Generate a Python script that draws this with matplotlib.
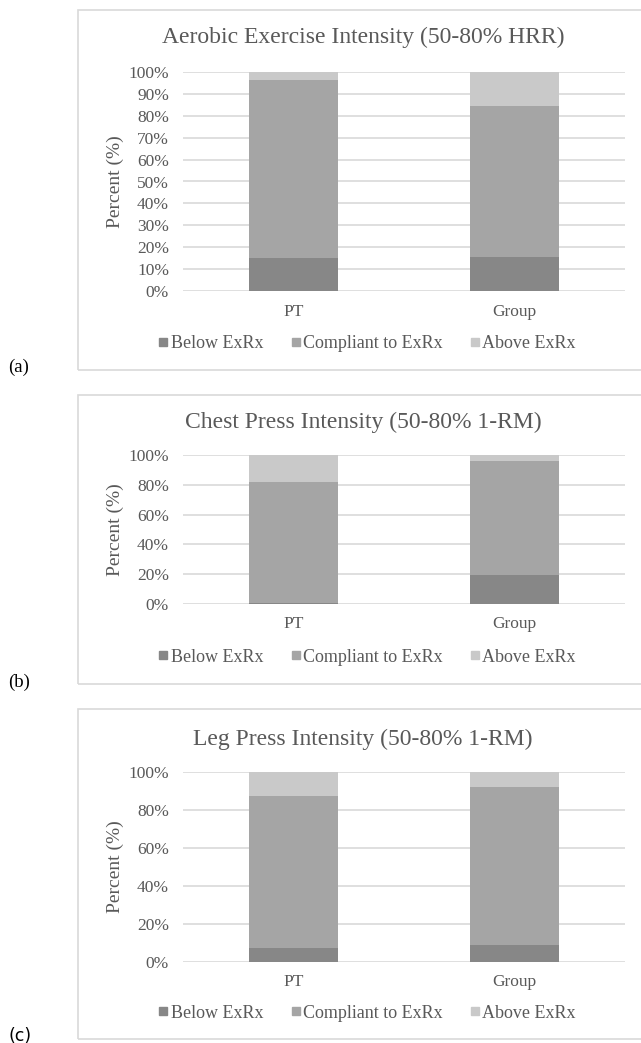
import matplotlib.pyplot as plt
from matplotlib.patches import Rectangle
from matplotlib.lines import Line2D
from matplotlib.ticker import PercentFormatter

groups = ['PT', 'Group']
series = ['Below ExRx', 'Compliant to ExRx', 'Above ExRx']
colors = ['#878787', '#a5a5a5', '#c9c9c9']

titles = ['Aerobic Exercise Intensity (50-80% HRR)',
          'Chest Press Intensity (50-80% 1-RM)',
          'Leg Press Intensity (50-80% 1-RM)']
tags = ['(a)', '(b)', '(c)']

# percent per group: below, compliant, above
aerobic_below = [15.1, 15.7]
aerobic_comp = [81.1, 68.6]
aerobic_above = [3.8, 15.7]

chest_below = [0.7, 19.7]
chest_comp = [81.2, 76.5]
chest_above = [18.1, 3.8]

leg_below = [7.3, 9.1]
leg_comp = [79.9, 83.0]
leg_above = [12.8, 7.9]

panels = [(aerobic_below, aerobic_comp, aerobic_above),
          (chest_below, chest_comp, chest_above),
          (leg_below, leg_comp, leg_above)]
ystep = [10, 20, 20]

W, H = 641, 1043
# pixel layout: box top/bottom, plot top/bottom, title y, legend y, tag y
boxes = [(10, 370), (395, 684), (709, 1039)]
plots = [(72, 291), (455, 604), (772, 962)]
title_y = [37, 422, 739]
leg_y = [344, 657, 1013]
tag_y = [367, 682, 1036]

txt = '#595959'
plt.rcParams['font.family'] = ['Liberation Serif', 'DejaVu Serif']

fig = plt.figure(figsize=(W / 100, H / 100), dpi=100)

for i in range(3):
    bt, bb = boxes[i]
    fig.patches.append(Rectangle((78 / W, 1 - bb / H), (W + 20 - 78) / W, (bb - bt) / H,
                                 transform=fig.transFigure, fill=False,
                                 edgecolor='#d9d9d9', linewidth=1.2))
    pt, pb = plots[i]
    ax = fig.add_axes([183 / W, 1 - pb / H, (625 - 183) / W, (pb - pt) / H])
    below, comp, above = panels[i]
    x = range(len(groups))
    ax.bar(x, below, width=0.4, color=colors[0], label=series[0], zorder=3)
    ax.bar(x, comp, width=0.4, bottom=below, color=colors[1], label=series[1], zorder=3)
    bot2 = [a + b for a, b in zip(below, comp)]
    ax.bar(x, above, width=0.4, bottom=bot2, color=colors[2], label=series[2], zorder=3)
    ax.set_xlim(-0.5, 1.5)
    ax.set_ylim(0, 100)
    ax.set_yticks(range(0, 101, ystep[i]))
    ax.yaxis.set_major_formatter(PercentFormatter(decimals=0))
    ax.set_xticks(list(x))
    ax.set_xticklabels(groups)
    ax.grid(axis='y', color='#d9d9d9', linewidth=1.2, zorder=0)
    for s in ['top', 'right', 'left', 'bottom']:
        ax.spines[s].set_visible(False)
    ax.tick_params(length=0, labelsize=12.5, labelcolor=txt)
    ax.tick_params(axis='y', pad=10)
    ax.tick_params(axis='x', pad=9)
    ax.set_ylabel('Percent (%)', fontsize=14, color=txt, labelpad=3)
    fig.text(363 / W, 1 - title_y[i] / H, titles[i], ha='center', va='center',
             fontsize=17, color=txt)
    handles = [Line2D([], [], marker='s', linestyle='none', markersize=5.5,
                      markerfacecolor=c, markeredgecolor=c) for c in colors]
    fig.legend(handles, series, loc='center', bbox_to_anchor=(365 / W, 1 - leg_y[i] / H),
               ncol=3, frameon=False, fontsize=13, labelcolor=txt,
               handletextpad=-0.1, columnspacing=1.3, handlelength=1.0)
    if i < 2:
        fig.text(8 / W, 1 - tag_y[i] / H, tags[i], ha='left', va='center',
                 fontsize=13.5, color='black')
    else:
        fig.text(8 / W, 1 - tag_y[i] / H, tags[i], ha='left', va='center',
                 fontsize=12.5, color='black', family='DejaVu Sans')

fig.savefig('out.png', dpi=100)
